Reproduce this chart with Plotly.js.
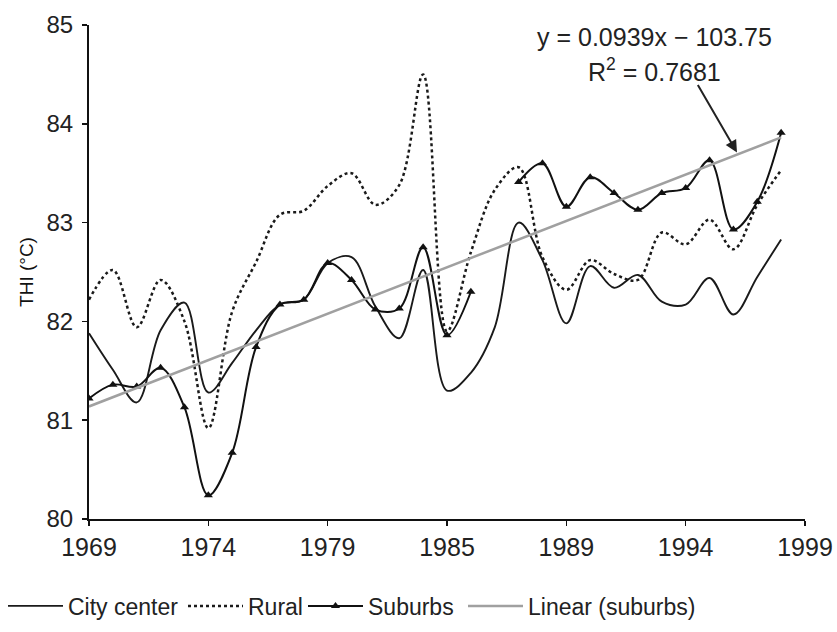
<!DOCTYPE html>
<html>
<head>
<meta charset="utf-8">
<script src="https://cdn.plot.ly/plotly-3.0.1.min.js"></script>
<style>
  html, body { margin: 0; padding: 0; background: #fff; }
  #chart { width: 837px; height: 632px; }
</style>
</head>
<body>
<div id="chart"></div>
<script>
// ---- data ----
const years = [1969,1970,1971,1972,1973,1974,1975,1976,1977,1978,1979,1980,1981,1982,1983,1984,1985,1986,1987,1988,1989,1990,1991,1992,1993,1994,1995,1996,1997,1998];

const cityCenter = [81.88,81.51,81.18,81.91,82.19,81.28,81.58,81.91,82.17,82.22,82.59,82.65,82.15,81.83,82.52,81.30,81.48,81.94,83.00,82.62,81.98,82.56,82.34,82.47,82.20,82.17,82.44,82.07,82.45,82.83];

const rural = [82.22,82.52,81.94,82.42,82.00,80.92,82.10,82.60,83.08,83.12,83.37,83.50,83.18,83.38,84.50,81.90,82.70,83.33,83.56,82.65,82.32,82.62,82.48,82.42,82.90,82.78,83.03,82.73,83.18,83.53];

const suburbs = [81.22,81.36,81.34,81.53,81.13,80.24,80.67,81.74,82.17,82.22,82.59,82.42,82.12,82.13,82.75,81.86,82.30,null,83.41,83.60,83.16,83.46,83.30,83.13,83.30,83.35,83.63,82.93,83.21,83.91];

// linear trendline given on the chart: y = 0.0939x - 103.75
const trendSlope = 0.0939;
const trendIntercept = -103.75;
const trendLabel1 = "y = 0.0939x − 103.75";
const trendLabel2 = "R<sup>2</sup> = 0.7681";

const seriesNames = ["City center", "Rural", "Suburbs", "Linear (suburbs)"];

const tickVals = [1969,1974,1979,1984,1989,1994,1999];
const tickText = ["1969","1974","1979","1985","1989","1994","1999"];

const trend = years.map(y => trendSlope * y + trendIntercept);

const FONT = "Liberation Sans, Arial, Helvetica, sans-serif";

const traces = [
  {
    x: years, y: cityCenter, name: seriesNames[0], type: "scatter", mode: "lines", legend: "legend",
    line: {color: "#1a1a1a", width: 1.9, shape: "spline", smoothing: 1}
  },
  {
    x: years, y: rural, name: seriesNames[1], type: "scatter", mode: "lines", legend: "legend2",
    line: {color: "#1a1a1a", width: 2.5, dash: "3px,3px", shape: "spline", smoothing: 1}
  },
  {
    x: years, y: suburbs, name: seriesNames[2], type: "scatter", mode: "lines+markers", legend: "legend3",
    connectgaps: false,
    line: {color: "#111", width: 2, shape: "spline", smoothing: 1},
    marker: {symbol: "triangle-up", size: 8, color: "#111"}
  },
  {
    x: years, y: trend, name: seriesNames[3], type: "scatter", mode: "lines", legend: "legend4",
    line: {color: "#a0a0a0", width: 2.5}
  }
];

function legendAt(px) {
  return {
    orientation: "h", x: (px - 89) / 716, xanchor: "left", y: -0.176, yanchor: "middle",
    font: {family: FONT, size: 23, color: "#222"},
    itemwidth: 55, bgcolor: "rgba(0,0,0,0)", borderwidth: 0
  };
}

const layout = {
  width: 837, height: 632,
  margin: {l: 89, r: 32, t: 25, b: 113, autoexpand: false},
  paper_bgcolor: "#fff", plot_bgcolor: "#fff",
  font: {family: FONT, color: "#222", size: 20},
  showlegend: true,
  legend: legendAt(3),
  legend2: legendAt(183),
  legend3: legendAt(303),
  legend4: legendAt(463),
  xaxis: {
    range: [1969, 1999], tickmode: "array", tickvals: tickVals, ticktext: tickText,
    showgrid: false, zeroline: false, showline: true, linecolor: "#111", linewidth: 2,
    ticks: "outside", ticklen: 5, tickcolor: "#111", tickwidth: 1.5,
    tickfont: {family: FONT, size: 25, color: "#222"}
  },
  yaxis: {
    range: [80, 85], tickvals: [80,81,82,83,84,85],
    showgrid: false, zeroline: false, showline: true, linecolor: "#111", linewidth: 2,
    ticks: "outside", ticklen: 5, tickcolor: "#111", tickwidth: 1.5,
    ticklabelstandoff: 4,
    tickfont: {family: FONT, size: 24, color: "#222"},
    title: {text: "THI (°C)", font: {family: FONT, size: 19, color: "#111"}, standoff: 8}
  },
  annotations: [
    {xref: "paper", yref: "paper", x: 0.79, y: (519-37)/494, xanchor: "center", yanchor: "middle",
     text: trendLabel1, showarrow: false, font: {family: FONT, size: 25, color: "#222"}},
    {xref: "paper", yref: "paper", x: 0.79, y: (519-70)/494, xanchor: "center", yanchor: "middle",
     text: trendLabel2, showarrow: false, font: {family: FONT, size: 25, color: "#222"}},
    {xref: "x", yref: "y", x: 1996.15, y: 83.71, ax: -40, ay: -69, text: "",
     showarrow: true, arrowhead: 2, arrowsize: 1.2, arrowwidth: 2, arrowcolor: "#222"}
  ]
};

Plotly.newPlot("chart", traces, layout, {displayModeBar: false, staticPlot: true});
</script>
</body>
</html>
